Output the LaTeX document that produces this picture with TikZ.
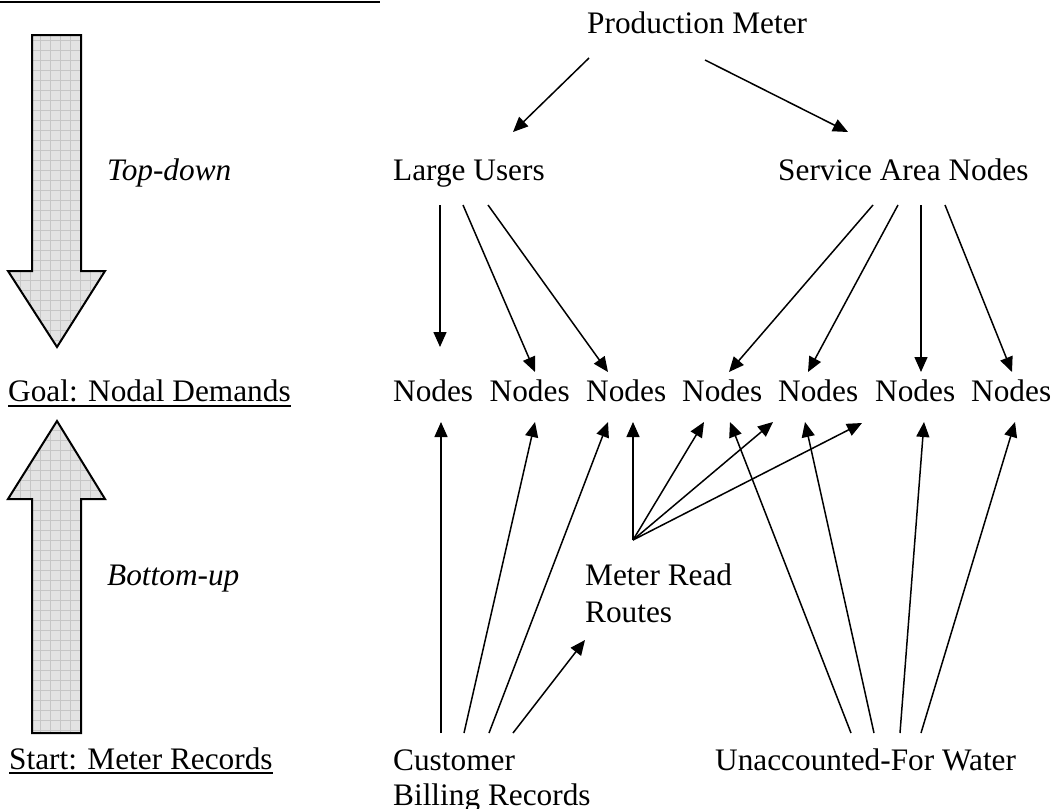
\documentclass[tikz,border=0pt]{standalone}
\usepackage{fontspec}
\setmainfont{Liberation Serif}
\usetikzlibrary{arrows.meta}
\begin{document}
\begin{tikzpicture}[x=1pt,y=-1pt,
  lbl/.style={anchor=base west, inner sep=0pt, font=\fontsize{31.3}{36}\selectfont},
  conn/.style={line width=1.5pt, -{Triangle[length=15pt,width=13pt]}},
  bigfill/.style={fill=gray!22},
  gridline/.style={draw=gray!45, line width=0.6pt},
  bigedge/.style={draw=black, line width=2pt, line join=miter},
  rule/.style={line width=2pt}]
\useasboundingbox (0,0) rectangle (1053,809);
\fill[white] (0,0) rectangle (1053,809);

% top rule
\coordinate (r0) at (0,1.5);
\coordinate (r1) at (380,1.5);
\draw[rule] (r0) -- (r1);

% big down arrow
\path[bigfill] (32,35) -- (81,35) -- (81,271) -- (105,271) -- (57,347) -- (8,271) -- (32,271) -- cycle;
\begin{scope}
  \clip (32,35) -- (81,35) -- (81,271) -- (105,271) -- (57,347) -- (8,271) -- (32,271) -- cycle;
  \draw[gridline, step=10pt] (0,30) grid (110,350);
\end{scope}
\path[bigedge] (32,35) -- (81,35) -- (81,271) -- (105,271) -- (57,347) -- (8,271) -- (32,271) -- cycle;

% big up arrow
\path[bigfill] (32,733) -- (81,733) -- (81,499) -- (105,499) -- (57,421) -- (8,499) -- (32,499) -- cycle;
\begin{scope}
  \clip (32,733) -- (81,733) -- (81,499) -- (105,499) -- (57,421) -- (8,499) -- (32,499) -- cycle;
  \draw[gridline, step=10pt] (0,420) grid (110,740);
\end{scope}
\path[bigedge] (32,733) -- (81,733) -- (81,499) -- (105,499) -- (57,421) -- (8,499) -- (32,499) -- cycle;

% left labels
\node[lbl, font=\fontsize{31.3}{36}\selectfont\itshape] (td) at (107,180) {Top-down};
\node[lbl] (goal) at (8,401) {Goal: Nodal Demands};
\draw[rule] ([yshift=-5pt]goal.base west) -- ([yshift=-5pt]goal.base east);
\node[lbl, font=\fontsize{31.3}{36}\selectfont\itshape] (bu) at (107,585) {Bottom-up};
\node[lbl] (start) at (9,769) {Start: Meter Records};
\draw[rule] ([yshift=-4pt]start.base west) -- ([yshift=-4pt]start.base east);

% diagram labels
\node[lbl] (pm) at (587,33) {Production Meter};
\node[lbl] (lu) at (393,180) {Large Users};
\node[lbl] (san) at (778,180) {Service Area Nodes};
\node[lbl] (n1) at (393,401) {Nodes};
\node[lbl] (n2) at (489.5,401) {Nodes};
\node[lbl] (n3) at (586,401) {Nodes};
\node[lbl] (n4) at (682,401) {Nodes};
\node[lbl] (n5) at (778,401) {Nodes};
\node[lbl] (n6) at (875,401) {Nodes};
\node[lbl] (n7) at (971,401) {Nodes};
\node[lbl] (mrr) at (585,585) {Meter Read};
\node[lbl] (mrr2) at (585,622) {Routes};
\node[lbl] (cbr) at (393,770) {Customer};
\node[lbl] (cbr2) at (393,805) {Billing Records};
\node[lbl] (ufw) at (715,770) {Unaccounted-For Water};

% connector end points
\coordinate (pm-l) at (589,58);
\coordinate (pm-r) at (705,60);
\coordinate (lu-in) at (513,132);
\coordinate (san-in) at (848,132);
\coordinate (lu-o1) at (440,205);
\coordinate (lu-o2) at (463,205);
\coordinate (lu-o3) at (488,205);
\coordinate (san-o1) at (873,205);
\coordinate (san-o2) at (898,205);
\coordinate (san-o3) at (921,205);
\coordinate (san-o4) at (945,205);
\coordinate (n1-t) at (440,347);
\coordinate (n2-t) at (535,372);
\coordinate (n3-t) at (608,372);
\coordinate (n4-t) at (729,372);
\coordinate (n5-t) at (808,372);
\coordinate (n6-t) at (921,372);
\coordinate (n7-t) at (1012,372);
\coordinate (n1-b) at (441,422);
\coordinate (n2-b) at (535,422);
\coordinate (n3-b) at (608,422);
\coordinate (n3-b2) at (633,422);
\coordinate (n4-b) at (704,422);
\coordinate (n4-b2) at (730,422);
\coordinate (n5-b) at (773,422);
\coordinate (n5-b2) at (805,422);
\coordinate (n6-b) at (862,423);
\coordinate (n6-b2) at (924,422);
\coordinate (n7-b) at (1015,422);
\coordinate (mrr-o) at (633,540);
\coordinate (mrr-in) at (585,640);
\coordinate (cbr-o1) at (441,733);
\coordinate (cbr-o2) at (464,733);
\coordinate (cbr-o3) at (489,733);
\coordinate (cbr-o4) at (513,733);
\coordinate (ufw-o1) at (851,733);
\coordinate (ufw-o2) at (874,733);
\coordinate (ufw-o3) at (900,733);
\coordinate (ufw-o4) at (921,733);

% top-down connectors
\draw[conn] (pm-l) -- (lu-in);
\draw[conn] (pm-r) -- (san-in);
\draw[conn] (lu-o1) -- (n1-t);
\draw[conn] (lu-o2) -- (n2-t);
\draw[conn] (lu-o3) -- (n3-t);
\draw[conn] (san-o1) -- (n4-t);
\draw[conn] (san-o2) -- (n5-t);
\draw[conn] (san-o3) -- (n6-t);
\draw[conn] (san-o4) -- (n7-t);

% bottom-up connectors
\draw[conn] (cbr-o1) -- (n1-b);
\draw[conn] (cbr-o2) -- (n2-b);
\draw[conn] (cbr-o3) -- (n3-b);
\draw[conn] (cbr-o4) -- (mrr-in);
\draw[conn] (mrr-o) -- (n3-b2);
\draw[conn] (mrr-o) -- (n4-b);
\draw[conn] (mrr-o) -- (n5-b);
\draw[conn] (mrr-o) -- (n6-b);
\draw[conn] (ufw-o1) -- (n4-b2);
\draw[conn] (ufw-o2) -- (n5-b2);
\draw[conn] (ufw-o3) -- (n6-b2);
\draw[conn] (ufw-o4) -- (n7-b);
\end{tikzpicture}
\end{document}
